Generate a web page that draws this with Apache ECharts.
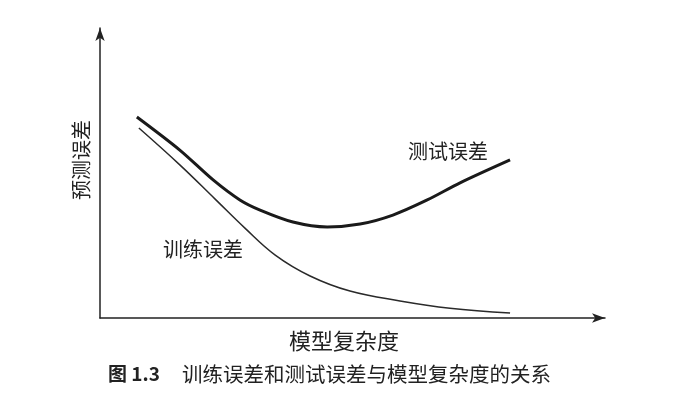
<!DOCTYPE html>
<html>
<head>
<meta charset="utf-8">
<script src="https://cdn.jsdelivr.net/npm/echarts@6/dist/echarts.min.js"></script>
<style>
  html, body { margin: 0; padding: 0; background: #fff; }
  #main { width: 700px; height: 410px; }
</style>
</head>
<body>
<div id="main"></div>
<script>
// 模型复杂度 (0-100) 与 预测误差 (0-100)
var testX = [7.3, 15.8, 22.4, 27.7, 31.7, 38.2, 45.0, 51.5, 58.0, 64.8, 71.3, 81.2];
var testY = [69.3, 57.9, 47.6, 40.7, 37.2, 33.1, 31.4, 32.4, 35.5, 40.7, 46.6, 54.5];
var trainX = [7.7, 15.8, 22.8, 28.7, 34.7, 41.6, 49.5, 59.4, 69.3, 81.2];
var trainY = [65.5, 52.8, 41.0, 31.0, 21.7, 14.5, 9.3, 5.9, 3.4, 1.7];

function pairs(xs, ys) {
  var out = [];
  for (var i = 0; i < xs.length; i++) out.push([xs[i], ys[i]]);
  return out;
}

var myChart = echarts.init(document.getElementById('main'));
var font = '"Noto Sans CJK SC", sans-serif';
var axisLine = {
  show: true,
  symbol: ['none', 'arrow'],
  symbolSize: [7, 13],
  lineStyle: { color: '#222', width: 1.5 }
};

var option = {
  animation: false,
  backgroundColor: '#fff',
  grid: { left: 100, right: 95, top: 28, bottom: 92 },
  xAxis: {
    type: 'value', min: 0, max: 100,
    axisLine: axisLine,
    axisTick: { show: false }, axisLabel: { show: false }, splitLine: { show: false }
  },
  yAxis: {
    type: 'value', min: 0, max: 100,
    axisLine: axisLine,
    axisTick: { show: false }, axisLabel: { show: false }, splitLine: { show: false }
  },
  series: [
    {
      name: '测试误差', type: 'line', smooth: 0.3, symbol: 'none',
      lineStyle: { color: '#1a1a1a', width: 3 },
      data: pairs(testX, testY)
    },
    {
      name: '训练误差', type: 'line', smooth: 0.4, symbol: 'none',
      lineStyle: { color: '#2a2a2a', width: 1.5 },
      data: pairs(trainX, trainY)
    }
  ],
  graphic: [
    { type: 'text', left: 408, top: 141, style: { text: '测试误差', font: '20px ' + font, fill: '#222' } },
    { type: 'text', left: 163, top: 239, style: { text: '训练误差', font: '20px ' + font, fill: '#222' } },
    { type: 'text', x: 81, y: 160, rotation: Math.PI / 2,
      style: { text: '预测误差', font: '20px ' + font, fill: '#222', align: 'center', verticalAlign: 'middle' } },
    { type: 'text', x: 344, y: 341,
      style: { text: '模型复杂度', font: '22px ' + font, fill: '#222', align: 'center', verticalAlign: 'middle' } },
    { type: 'text', x: 108, y: 374,
      style: { text: '图 1.3', font: 'bold 19px ' + font, fill: '#222', verticalAlign: 'middle' } },
    { type: 'text', x: 182, y: 374,
      style: { text: '训练误差和测试误差与模型复杂度的关系', font: '20.5px ' + font, fill: '#222', verticalAlign: 'middle' } }
  ]
};

myChart.setOption(option);
</script>
</body>
</html>
